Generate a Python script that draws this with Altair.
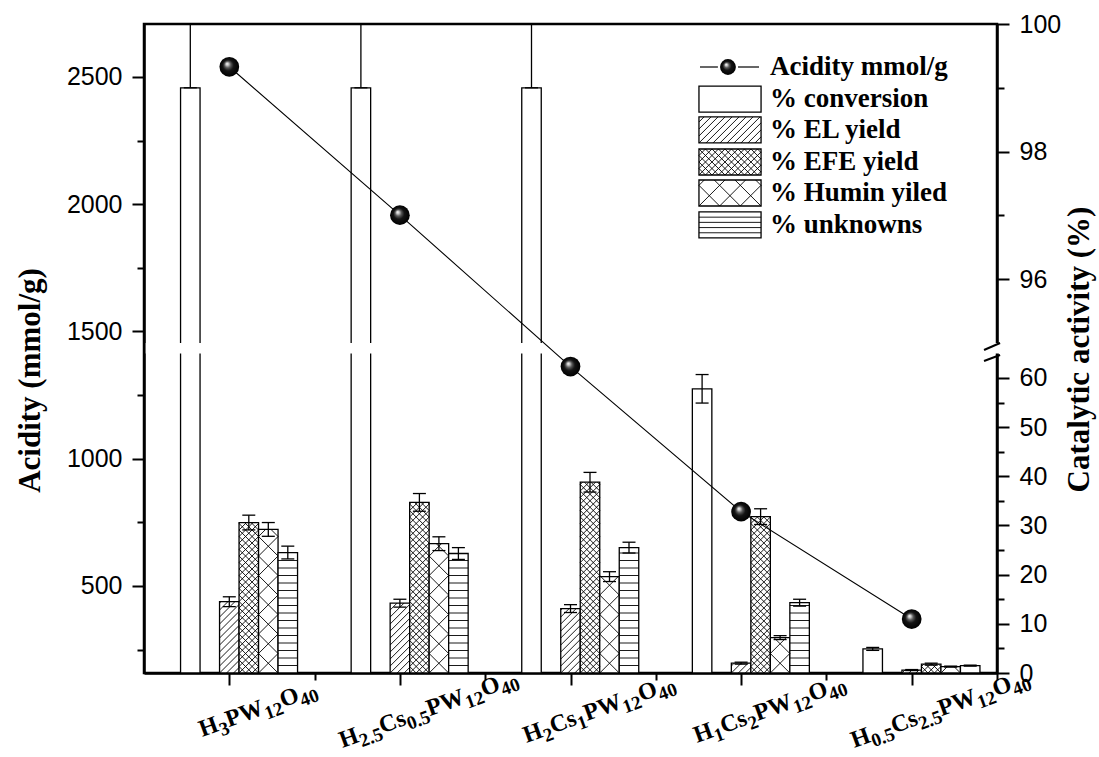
import altair as alt
import pandas as pd

# ---------------- data ----------------
catalysts = [1, 2, 3, 4, 5]
formula_runs = [
    [("H", 0), ("3", 1), ("PW", 0), ("12", 1), ("O", 0), ("40", 1)],
    [("H", 0), ("2.5", 1), ("Cs", 0), ("0.5", 1), ("PW", 0), ("12", 1), ("O", 0), ("40", 1)],
    [("H", 0), ("2", 1), ("Cs", 0), ("1", 1), ("PW", 0), ("12", 1), ("O", 0), ("40", 1)],
    [("H", 0), ("1", 1), ("Cs", 0), ("2", 1), ("PW", 0), ("12", 1), ("O", 0), ("40", 1)],
    [("H", 0), ("0.5", 1), ("Cs", 0), ("2.5", 1), ("PW", 0), ("12", 1), ("O", 0), ("40", 1)],
]
acidity = [2540, 1957, 1362, 792, 370]            # mmol/g, left axis
conversion = [99.0, 99.0, 99.0, 57.8, 4.9]        # %, right axis
conversion_err_up = [3.0, 3.0, 3.0, 2.9, 0.3]
conversion_err_dn = [0.0, 0.0, 0.0, 2.9, 0.3]
el_yield = [14.5, 14.2, 13.1, 2.0, 0.6]
el_err = [1.0, 0.8, 0.8, 0.2, 0.1]
efe_yield = [30.6, 34.7, 38.8, 31.8, 1.8]
efe_err = [1.5, 1.8, 2.0, 1.6, 0.2]
humin_yield = [29.2, 26.3, 19.6, 7.2, 1.3]
humin_err = [1.4, 1.4, 1.0, 0.4, 0.1]
unknowns = [24.5, 24.3, 25.5, 14.3, 1.5]
unknowns_err = [1.3, 1.2, 1.1, 0.7, 0.1]
legend_labels = ["Acidity mmol/g", "% conversion", "% EL yield", "% EFE yield",
                 "% Humin yiled", "% unknowns"]

# ---------------- layout ----------------
W, H = 853, 649
X_DOMAIN = [0.5, 5.5]
PX_X = W / (X_DOMAIN[1] - X_DOMAIN[0])
# broken right axis: 0-65 below the break, 95-100 above it
Y_R_DOMAIN = [0, 65, 95, 100]
Y_R_RANGE = [649, 329.4, 319, 0]
PX_Y_LO = (Y_R_RANGE[0] - Y_R_RANGE[1]) / 65.0
PX_Y_HI = Y_R_RANGE[2] / 5.0
BAR_W = 19.5 / PX_X
CAP_HALF = 6.5 / PX_X

SERIF = "Liberation Serif"
SANS = "Liberation Sans"
MAIN_SIZE, SUB_SIZE, SUB_DY = 24, 19, 6
LABEL_SHIFT, LABEL_Y, LABEL_ANGLE = 33, -11.0, 340

x_scale = alt.Scale(domain=X_DOMAIN, nice=False, zero=False)
x_axis = alt.Axis(
    values=[1, 1.5, 2, 2.5, 3, 3.5, 4, 4.5, 5, 5.5], labels=False, title=None,
    tickSize={"condition": {"test": "datum.value % 1 === 0", "value": 12}, "value": 7},
)
yr_scale = alt.Scale(domain=Y_R_DOMAIN, range=Y_R_RANGE, nice=False, zero=False)
yr_test = "datum.value % 10 === 0 || (datum.value > 90 && datum.value % 2 === 0)"
yr_axis = alt.Axis(
    orient="right",
    values=[0, 5, 10, 15, 20, 25, 30, 35, 40, 45, 50, 55, 60, 96, 97, 98, 99, 100],
    labelExpr=f"({yr_test}) ? datum.label : ''",
    tickSize={"condition": {"test": yr_test, "value": 12}, "value": 7},
    labelPadding=10, labelFont=SANS, labelFontSize=25, labelOverlap=False, format="d",
    title="Catalytic activity (%)", titleFont=SERIF, titleFontSize=31, titleFontWeight="bold",
    titleAngle=270, titleX=82, titleY=325, titleAlign="center", titleBaseline="middle",
)
yl_scale = alt.Scale(domain=[158, 2708], nice=False, zero=False)
yl_axis = alt.Axis(
    orient="left", values=list(range(250, 2501, 250)), format="d",
    labelExpr="datum.value % 500 === 0 ? datum.label : ''",
    tickSize={"condition": {"test": "datum.value % 500 === 0", "value": 12}, "value": 7},
    labelPadding=10, labelFont=SANS, labelFontSize=25, labelOverlap=False,
    title="Acidity (mmol/g)", titleFont=SERIF, titleFontSize=31, titleFontWeight="bold",
    titleAngle=270, titleX=-114, titleY=356, titleAlign="center", titleBaseline="middle",
)


def X(field):
    return alt.X(field, type="quantitative", scale=x_scale, axis=x_axis)


def YR(field):
    return alt.Y(field, type="quantitative", scale=yr_scale, axis=yr_axis)


def YL(field):
    return alt.Y(field, type="quantitative", scale=yl_scale, axis=yl_axis)


def hatch_segments(x0, y0, wpx, hpx, kind, step, sy):
    """Hatch lines of a box whose lower-left corner is (x0, y0) in data units."""
    out = []

    def seg(ax, ay, bx, by):
        out.append({"x": x0 + ax / PX_X, "x2": x0 + bx / PX_X,
                    "y": y0 + ay / sy, "y2": y0 + by / sy})

    if kind == "flat":
        k = 1
        while k * step < hpx - 1.5:
            seg(0, k * step, wpx, k * step)
            k += 1
        return out
    if kind in ("up", "cross"):
        k = -int(hpx // step) - 1
        while k * step < wpx:
            c = k * step
            lo, hi = max(0.0, -c), min(hpx, wpx - c)
            if hi - lo > 0.8:
                seg(lo + c, lo, hi + c, hi)
            k += 1
    if kind in ("down", "cross"):
        k = 1
        while k * step < wpx + hpx:
            c = k * step
            lo, hi = max(0.0, c - wpx), min(hpx, c)
            if hi - lo > 0.8:
                seg(c - lo, lo, c - hi, hi)
            k += 1
    return out


# series: name, slot within group, values, err below, err above, hatch
series = [
    ("conversion", -2, conversion, conversion_err_dn, conversion_err_up, None),
    ("el", 0, el_yield, el_err, el_err, ("up", 7.0)),
    ("efe", 1, efe_yield, efe_err, efe_err, ("cross", 6.5)),
    ("humin", 2, humin_yield, humin_err, humin_err, ("cross", 19.5)),
    ("unknowns", 3, unknowns, unknowns_err, unknowns_err, ("flat", 7.5)),
]

bar_rows, hatch_rows, err_rows, cap_rows = [], [], [], []
for name, slot, vals, edn, eup, pattern in series:
    for c, v, dn, up in zip(catalysts, vals, edn, eup):
        xc = c + slot * BAR_W
        x0, x1 = xc - BAR_W / 2, xc + BAR_W / 2
        bar_rows.append({"series": name, "x0": x0, "x1": x1, "base": 0.0, "v": v})
        err_rows.append({"xc": xc, "lo": v - dn, "hi": v + up})
        cap_rows.append({"xl": xc - CAP_HALF, "xr": xc + CAP_HALF, "yv": v - dn})
        cap_rows.append({"xl": xc - CAP_HALF, "xr": xc + CAP_HALF, "yv": v + up})
        if pattern:
            hatch_rows += hatch_segments(x0, 0.0, BAR_W * PX_X, v * PX_Y_LO,
                                         pattern[0], pattern[1], PX_Y_LO)

bars = alt.Chart(pd.DataFrame(bar_rows)).mark_rect(
    fill="white", stroke="black", strokeWidth=1.3
).encode(x=X("x0"), x2="x1", y=YR("base"), y2="v")

hatch = alt.Chart(pd.DataFrame(hatch_rows)).mark_rule(
    color="black", strokeWidth=0.9
).encode(x=X("x"), x2="x2", y=YR("y"), y2="y2")

err_v = alt.Chart(pd.DataFrame(err_rows)).mark_rule(
    color="black", strokeWidth=1.3, clip=True
).encode(x=X("xc"), y=YR("lo"), y2="hi")

err_caps = alt.Chart(pd.DataFrame(cap_rows)).mark_rule(
    color="black", strokeWidth=1.3, clip=True
).encode(x=X("xl"), x2="xr", y=YR("yv"))

# white band that opens the axis break
break_band = alt.Chart(pd.DataFrame({"x": [0.51], "x2": [5.53], "y": [65], "y2": [95]})).mark_rect(
    color="white"
).encode(x=X("x"), x2="x2", y=YR("y"), y2="y2")

break_marks = alt.Chart(pd.DataFrame({
    "x": [5.424, 5.424], "x2": [5.518, 5.518], "y": [74.8, 63.45], "y2": [95.0, 64.67]
})).mark_rule(color="black", strokeWidth=2).encode(x=X("x"), x2="x2", y=YR("y"), y2="y2")

# ---------------- legend ----------------
legend_y = [99.326, 98.824, 98.339, 97.837, 97.351, 96.850]
SW_X0, SW_X1 = 3.753, 4.117
SW_HALF = 13 / PX_Y_HI
legend_patterns = [None, None, ("up", 7.0), ("cross", 6.5), ("cross", 62 / 3), ("flat", 5.2)]

swatch_rows, legend_hatch_rows = [], []
for yv, pattern in zip(legend_y[1:], legend_patterns[1:]):
    swatch_rows.append({"x": SW_X0, "x2": SW_X1, "y": yv - SW_HALF, "y2": yv + SW_HALF})
    if pattern:
        legend_hatch_rows += hatch_segments(SW_X0, yv - SW_HALF, (SW_X1 - SW_X0) * PX_X, 26,
                                            pattern[0], pattern[1], PX_Y_HI)

legend_swatch = alt.Chart(pd.DataFrame(swatch_rows)).mark_rect(
    fill="white", stroke="black", strokeWidth=1.3
).encode(x=X("x"), x2="x2", y=YR("y"), y2="y2")

legend_hatch = alt.Chart(pd.DataFrame(legend_hatch_rows)).mark_rule(
    color="black", strokeWidth=0.9
).encode(x=X("x"), x2="x2", y=YR("y"), y2="y2")

legend_line = alt.Chart(pd.DataFrame({
    "x": [3.759, 3.982], "x2": [3.864, 4.105], "y": [legend_y[0]] * 2
})).mark_rule(color="black", strokeWidth=1.2).encode(x=X("x"), x2="x2", y=YR("y"))

# glossy black ball used as the acidity symbol
SPHERE = {
    "gradient": "radial", "x1": 0.38, "y1": 0.34, "r1": 0.0,
    "x2": 0.5, "y2": 0.5, "r2": 0.5,
    "stops": [
        {"offset": 0.0, "color": "#ffffff"},
        {"offset": 0.14, "color": "#c8c8c8"},
        {"offset": 0.32, "color": "#5a5a5a"},
        {"offset": 0.55, "color": "#141414"},
        {"offset": 1.0, "color": "#000000"},
    ],
}

legend_ball = alt.Chart(pd.DataFrame({"x": [3.923], "y": [legend_y[0]]})).mark_circle(
    size=250, fill=SPHERE, opacity=1
).encode(x=X("x"), y=YR("y"))

legend_text = alt.Chart(pd.DataFrame({
    "x": [4.169] * 6, "y": legend_y, "t": legend_labels
})).mark_text(
    align="left", baseline="middle", font=SERIF, fontWeight="bold", fontSize=27, color="black"
).encode(x=X("x"), y=YR("y"), text="t:N")

# ---------------- rotated formula labels ----------------
EM = {"H": 0.778, "P": 0.611, "W": 1.0, "O": 0.778, "C": 0.722, "s": 0.389, ".": 0.25}


def run_width(text, sub):
    size = SUB_SIZE if sub else MAIN_SIZE
    return sum(EM.get(ch, 0.5) for ch in text) * size


label_layers = []
for cat, runs in zip(catalysts, formula_runs):
    total = sum(run_width(t, s) for t, s in runs)
    pos = LABEL_SHIFT - total / 2
    for t, s in runs:
        label_layers.append(
            alt.Chart(pd.DataFrame({"cat": [cat], "y": [LABEL_Y], "t": [t]})).mark_text(
                angle=LABEL_ANGLE, align="left", baseline="alphabetic", dx=pos,
                dy=SUB_DY if s else 0, fontSize=SUB_SIZE if s else MAIN_SIZE,
                font=SERIF, fontWeight="bold", color="black",
            ).encode(x=X("cat"), y=YR("y"), text="t:N")
        )
        pos += run_width(t, s)

right_layer = alt.layer(
    bars, hatch, err_v, err_caps, break_band, break_marks,
    legend_swatch, legend_hatch, legend_line, legend_ball, legend_text,
    *label_layers,
)

# ---------------- acidity line ----------------
acid_df = pd.DataFrame({"cat": catalysts, "acidity": acidity})
acid_line = alt.Chart(acid_df).mark_line(color="black", strokeWidth=1.1).encode(
    x=X("cat"), y=YL("acidity")
)
acid_balls = alt.Chart(acid_df).mark_circle(size=390, fill=SPHERE, opacity=1).encode(
    x=X("cat"), y=YL("acidity")
)
left_layer = alt.layer(acid_line, acid_balls)

chart = (
    alt.layer(right_layer, left_layer)
    .resolve_scale(y="independent")
    .properties(
        width=W, height=H,
        padding={"left": 144, "top": 24, "right": 102, "bottom": 84},
        autosize=alt.AutoSizeParams(type="none"),
        background="white",
    )
    .configure_view(stroke="black", strokeWidth=2.5)
    .configure_axis(
        grid=False, domainColor="black", domainWidth=2.5, tickColor="black",
        tickWidth=2, labelColor="black", titleColor="black",
    )
)

chart.save("out.html", embed_options={"renderer": "svg", "actions": False})
